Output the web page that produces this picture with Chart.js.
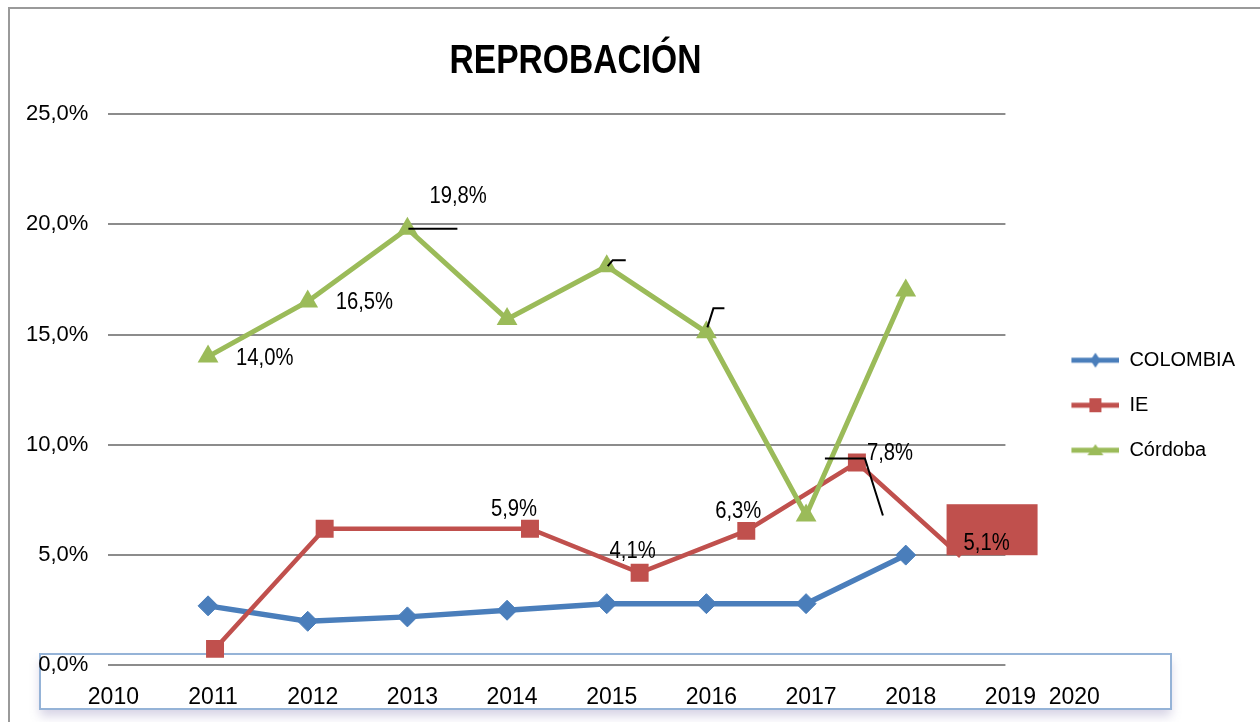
<!DOCTYPE html>
<html><head><meta charset="utf-8">
<script src="https://cdn.jsdelivr.net/npm/chart.js@4/dist/chart.umd.min.js"></script>
<style>html,body{margin:0;padding:0;background:#fff;overflow:hidden}canvas{display:block}</style>
</head><body>
<canvas id="c" width="1260" height="722"></canvas>
<script>
// ---- data ----
const chartTitle = 'REPROBACIÓN';
const seriesNames = ['COLOMBIA', 'IE', 'Córdoba'];
const years = [2011, 2012, 2013, 2014, 2015, 2016, 2017, 2018];
const colombiaValues = [2.7, 2.0, 2.2, 2.5, 2.8, 2.8, 2.8, 5.0];
const ieYears = [2011.07, 2012.17, 2014.23, 2015.33, 2016.40, 2017.51, 2018.55];
const ieValues = [0.75, 6.2, 6.2, 4.2, 6.1, 9.2, 4.95];
const cordobaValues = [14.0, 16.5, 19.8, 15.7, 18.1, 15.1, 6.8, 17.0];
const ieLabels = ['', '', '5,9%', '4,1%', '6,3%', '7,8%', '5,1%'];
const cordobaLabels = ['14,0%', '16,5%', '19,8%', '', '', '', '', ''];
const xTickLabels = ['2010', '2011', '2012', '2013', '2014', '2015', '2016', '2017', '2018', '2019', '2020'];
const xTickValues = [2010, 2011, 2012, 2013, 2014, 2015, 2016, 2017, 2018, 2019, 2019.64];
const yTickLabels = ['0,0%', '5,0%', '10,0%', '15,0%', '20,0%', '25,0%'];

// ---- styles ----
const FONT = '"Liberation Sans", Arial, sans-serif';
const BLUE = '#4A7EBB', RED = '#C0504D', GREEN = '#9BBB59';

function makeIcon(color, kind) {
  const c = document.createElement('canvas');
  c.width = 89; c.height = 24;
  const g = c.getContext('2d');
  g.strokeStyle = color; g.fillStyle = color; g.lineWidth = 5;
  g.beginPath(); g.moveTo(41, 12); g.lineTo(89, 12); g.stroke();
  const cx = 65, cy = 12;
  g.beginPath();
  if (kind === 'diamond') { g.moveTo(cx, cy - 7.5); g.lineTo(cx + 5, cy); g.lineTo(cx, cy + 7.5); g.lineTo(cx - 5, cy); }
  else if (kind === 'square') { g.rect(cx - 6, cy - 7, 12, 14); }
  else { g.moveTo(cx, cy - 6); g.lineTo(cx + 8, cy + 5); g.lineTo(cx - 8, cy + 5); }
  g.closePath(); g.fill();
  return c;
}
const legendIcons = [makeIcon(BLUE, 'diamond'), makeIcon(RED, 'square'), makeIcon(GREEN, 'triangle')];

// label placement relative to the point (pixels)
const labelPlacement = {
  1: {2: [-16, -19, 'center'], 3: [-7, -21, 'center'], 4: [-8, -19, 'center'], 5: [10, -9, 'left'], 6: [3, -13, 'left']},
  2: {0: [28, 2, 'left'], 1: [28, 1, 'left'], 2: [22, -32, 'left']}
};
const leaderLines = [
  {ds: 2, pt: 2, path: [[1, 0], [50, 0]]},
  {ds: 2, pt: 4, path: [[1, 0], [6, -6], [19, -6]]},
  {ds: 2, pt: 5, path: [[1, -5], [7, -24], [18, -24]]},
  {ds: 1, pt: 5, path: [[-32, -4], [8, -4], [26, 53]]}
];

const decor = {
  id: 'decor',
  beforeDraw(chart) {
    const ctx = chart.ctx;
    ctx.save();
    // outer frame
    ctx.strokeStyle = '#9a9a9a'; ctx.lineWidth = 2;
    ctx.beginPath(); ctx.moveTo(9, 722); ctx.lineTo(9, 8); ctx.lineTo(1260, 8); ctx.stroke();
    // category text box
    ctx.shadowColor = 'rgba(120,110,170,0.30)'; ctx.shadowBlur = 10; ctx.shadowOffsetY = 7;
    ctx.fillStyle = '#ffffff';
    ctx.fillRect(40, 654, 1131, 55);
    ctx.shadowColor = 'transparent';
    ctx.strokeStyle = '#95B3D7'; ctx.lineWidth = 2;
    ctx.strokeRect(40, 654, 1131, 55);
    // title
    ctx.fillStyle = '#000';
    ctx.font = 'bold 40px ' + FONT;
    ctx.textAlign = 'center'; ctx.textBaseline = 'alphabetic';
    ctx.translate(575.5, 73); ctx.scale(0.84, 1);
    ctx.fillText(chartTitle, 0, 0);
    ctx.restore();
  },
  afterDatasetsDraw(chart) {
    const ctx = chart.ctx;
    const labelSets = {1: ieLabels, 2: cordobaLabels};
    ctx.save();
    // red label background for last IE point
    const ieMeta = chart.getDatasetMeta(1);
    const last = ieMeta.data[ieMeta.data.length - 1];
    ctx.fillStyle = RED;
    ctx.fillRect(last.x - 14, last.y - 52, 91, 51);
    ctx.fillStyle = '#000';
    ctx.font = '23px ' + FONT;
    ctx.textBaseline = 'middle';
    Object.keys(labelPlacement).forEach(ds => {
      const meta = chart.getDatasetMeta(+ds);
      const texts = labelSets[ds];
      Object.keys(labelPlacement[ds]).forEach(pi => {
        const [dx, dy, align] = labelPlacement[ds][pi];
        const p = meta.data[+pi];
        ctx.save();
        ctx.translate(p.x + dx, p.y + dy); ctx.scale(0.88, 1);
        ctx.textAlign = align;
        ctx.fillText(texts[+pi], 0, 0);
        ctx.restore();
      });
    });
    ctx.strokeStyle = '#000'; ctx.lineWidth = 2;
    leaderLines.forEach(l => {
      const p = chart.getDatasetMeta(l.ds).data[l.pt];
      ctx.beginPath();
      l.path.forEach(([dx, dy], i) => { if (i === 0) ctx.moveTo(p.x + dx, p.y + dy); else ctx.lineTo(p.x + dx, p.y + dy); });
      ctx.stroke();
    });
    ctx.restore();
  }
};

new Chart(document.getElementById('c'), {
  type: 'line',
  data: {
    datasets: [
      {label: seriesNames[0], data: years.map((x, i) => ({x, y: colombiaValues[i]})), borderColor: BLUE, backgroundColor: BLUE,
       borderWidth: 5.5, pointStyle: 'rectRot', pointRadius: 10, pointBorderWidth: 1, order: 3},
      {label: seriesNames[1], data: ieYears.map((x, i) => ({x, y: ieValues[i]})), borderColor: RED, backgroundColor: RED,
       borderWidth: 4.5, pointStyle: 'rect', pointBorderWidth: 0, order: 2,
       pointRadius: c => (c.dataIndex === ieValues.length - 1 ? 0 : 12.7)},
      {label: seriesNames[2], data: years.map((x, i) => ({x, y: cordobaValues[i]})), borderColor: GREEN, backgroundColor: GREEN,
       borderWidth: 5, pointStyle: 'triangle', pointRadius: 12, pointBorderWidth: 0, order: 1}
    ]
  },
  options: {
    responsive: false,
    animation: false,
    devicePixelRatio: 1,
    layout: {padding: {left: 6, right: 15, top: 114, bottom: 1}},
    font: {family: FONT},
    plugins: {
      title: {display: false},
      tooltip: {enabled: false},
      legend: {
        position: 'right', fullSize: false, align: 'center',
        title: {display: true, text: '', padding: 9.5, font: {size: 10}},
        labels: {
          usePointStyle: true, pointStyleWidth: 89, padding: 25, color: '#000',
          font: {size: 20, family: FONT},
          sort: (a, b) => a.datasetIndex - b.datasetIndex,
          generateLabels(chart) {
            const items = Chart.defaults.plugins.legend.labels.generateLabels(chart);
            items.forEach(it => { it.pointStyle = legendIcons[it.datasetIndex]; });
            return items;
          }
        }
      }
    },
    scales: {
      x: {
        type: 'linear', min: 2010, max: 2019,
        afterBuildTicks: axis => { axis.ticks = xTickValues.map(v => ({value: v})); },
        grid: {display: false}, border: {display: false},
        ticks: {autoSkip: false, maxRotation: 0, padding: 10, labelOffset: 5, color: '#000',
                font: {size: 23, family: FONT}, callback: (v, i) => xTickLabels[i]}
      },
      y: {
        min: 0, max: 25,
        ticks: {stepSize: 5, padding: 20, color: '#000', font: {size: 22, family: FONT},
                callback: (v, i) => yTickLabels[i]},
        grid: {color: '#8c8c8c', lineWidth: 2, drawTicks: false},
        border: {display: false}
      }
    }
  },
  plugins: [decor]
});
</script>
</body></html>
